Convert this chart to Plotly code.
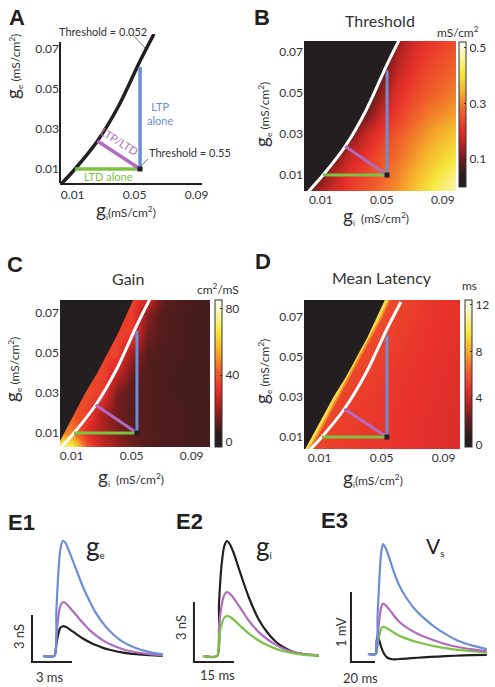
import plotly.graph_objects as go

W, H = 495, 687
INK = '#231f20'
TXT = '#333333'
BLUE = '#6b8ed6'
PURPLE = '#b06cbe'
GREEN = '#7cc243'
FONT = 'Lato, Liberation Sans, sans-serif'
BOLD = 'Liberation Sans, Arial, sans-serif'

# ---------------- data ----------------
GI = [0.0, 0.01, 0.02, 0.03, 0.04, 0.05, 0.06, 0.07, 0.08, 0.09, 0.10]
GE = [0.0, 0.01, 0.02, 0.03, 0.04, 0.05, 0.06, 0.07, 0.08]

THRESH_Z = [
    [0.10, 0.16, 0.20, 0.23, 0.26, 0.29, 0.32, 0.36, 0.41, 0.45, 0.48],
    [0.06, 0.10, 0.17, 0.21, 0.24, 0.27, 0.30, 0.34, 0.38, 0.42, 0.45],
    [0.04, 0.06, 0.10, 0.18, 0.21, 0.25, 0.28, 0.31, 0.35, 0.38, 0.41],
    [0.02, 0.04, 0.06, 0.10, 0.18, 0.22, 0.26, 0.29, 0.32, 0.35, 0.37],
    [0.00, 0.02, 0.04, 0.06, 0.10, 0.18, 0.22, 0.26, 0.29, 0.31, 0.33],
    [0.00, 0.00, 0.02, 0.04, 0.06, 0.13, 0.20, 0.23, 0.26, 0.28, 0.30],
    [0.00, 0.00, 0.00, 0.02, 0.04, 0.09, 0.17, 0.21, 0.24, 0.26, 0.28],
    [0.00, 0.00, 0.00, 0.00, 0.02, 0.06, 0.14, 0.19, 0.22, 0.24, 0.26],
    [0.00, 0.00, 0.00, 0.00, 0.00, 0.04, 0.11, 0.17, 0.20, 0.22, 0.24],
]
GAIN_Z = [
    [85, 80, 45, 28, 20, 14, 11, 10, 9, 8, 8],
    [48, 48, 30, 22, 16, 12, 10, 9, 9, 8, 8],
    [40, 40, 36, 22, 14, 11, 10, 9, 9, 8, 8],
    [38, 38, 38, 34, 15, 11, 10, 9, 8, 8, 8],
    [37, 37, 37, 37, 26, 13, 10, 9, 8, 8, 8],
    [36, 36, 36, 36, 36, 20, 11, 9, 9, 8, 8],
    [36, 36, 36, 36, 36, 34, 14, 10, 9, 8, 8],
    [35, 35, 35, 35, 35, 35, 18, 10, 9, 8, 8],
    [35, 35, 35, 35, 35, 35, 34, 13, 10, 9, 8],
]
LAT_Z = [
    [5.6, 5.4, 5.2, 5.1, 5.05, 5.0, 4.9, 4.8, 4.7, 4.6, 4.5],
    [5.6, 5.5, 5.3, 5.15, 5.05, 5.0, 4.9, 4.8, 4.7, 4.6, 4.5],
    [5.6, 5.6, 5.4, 5.2, 5.1, 5.0, 4.9, 4.8, 4.7, 4.6, 4.5],
    [5.6, 5.6, 5.5, 5.3, 5.15, 5.05, 4.95, 4.85, 4.75, 4.65, 4.55],
    [5.6, 5.6, 5.6, 5.5, 5.3, 5.15, 5.0, 4.9, 4.8, 4.7, 4.6],
    [5.6, 5.6, 5.6, 5.6, 5.5, 5.3, 5.1, 4.95, 4.85, 4.75, 4.65],
    [5.6, 5.6, 5.6, 5.6, 5.6, 5.5, 5.25, 5.05, 4.9, 4.8, 4.7],
    [5.6, 5.6, 5.6, 5.6, 5.6, 5.6, 5.4, 5.15, 4.95, 4.85, 4.75],
    [5.6, 5.6, 5.6, 5.6, 5.6, 5.6, 5.5, 5.3, 5.0, 4.9, 4.8],
]

# spike / no-spike boundary (left of it: no response)
SPIKE_GE = [0.0, 0.01, 0.02, 0.03, 0.04, 0.05, 0.06, 0.07, 0.08]
SPIKE_GI = [-0.002, 0.005, 0.012, 0.019, 0.027, 0.034, 0.041, 0.047, 0.053]

# threshold curve
CURVE_GI = [0.002, 0.0115, 0.026, 0.040, 0.0535, 0.0625]
CURVE_GE = [0.002, 0.010, 0.024, 0.042, 0.064, 0.0775]

# plasticity paths
LTP_GI, LTP_GE = [0.0535, 0.0535], [0.010, 0.061]
MIX_GI, MIX_GE = [0.026, 0.0535], [0.024, 0.010]
LTD_GI, LTD_GE = [0.0115, 0.0535], [0.010, 0.010]
BASE_GI, BASE_GE = [0.0535], [0.010]

GI_TICKS = [0.01, 0.05, 0.09]
GI_TEXT = ['0.01', '0.05', '0.09']
GE_TICKS = [0.01, 0.03, 0.05, 0.07]
GE_TEXT = ['0.01', '0.03', '0.05', '0.07']

# E1: excitatory conductance (ms, nS)
E1_T = [0, 0.85, 1.0, 1.15, 1.3, 1.5, 1.7, 2.0, 2.5, 3.0, 3.5, 4.0, 4.5, 5.0, 6.0, 7.0, 8.0, 9.0]
E1_BLUE = [0, 0, 2.8, 5.3, 6.8, 7.35, 7.2, 6.6, 5.5, 4.4, 3.5, 2.7, 2.1, 1.6, 0.9, 0.5, 0.25, 0.1]
E1_PURPLE = [0, 0, 1.3, 2.5, 3.2, 3.43, 3.37, 3.1, 2.6, 2.1, 1.65, 1.3, 1.0, 0.76, 0.43, 0.24, 0.12, 0.05]
E1_BLACK = [0, 0, 0.75, 1.4, 1.8, 1.9, 1.86, 1.7, 1.4, 1.12, 0.88, 0.68, 0.52, 0.4, 0.22, 0.12, 0.06, 0.02]

# E2: inhibitory conductance (ms, nS)
E2_T = [0, 5.3, 6.0, 7.0, 8.0, 9.0, 10.0, 11.5, 13.0, 15.0, 17.0, 19.0, 21.0, 24.0, 27.0, 30.0, 34.0, 38.0, 43.5]
E2_BLACK = [0, 0, 2.6, 4.6, 5.5, 5.75, 5.6, 5.15, 4.55, 3.75, 3.0, 2.35, 1.8, 1.2, 0.75, 0.45, 0.2, 0.08, 0.02]
E2_PURPLE = [0, 0, 1.45, 2.55, 3.05, 3.2, 3.12, 2.9, 2.6, 2.2, 1.8, 1.47, 1.18, 0.85, 0.58, 0.38, 0.2, 0.09, 0.03]
E2_GREEN = [0, 0, 0.9, 1.6, 1.92, 2.0, 1.96, 1.82, 1.63, 1.38, 1.14, 0.94, 0.76, 0.55, 0.38, 0.25, 0.13, 0.06, 0.02]

# E3: somatic voltage (ms, mV)
E3_T = [0, 6.4, 8.0, 9.5, 11.0, 12.5, 14.5, 18.0, 22.0, 26.0, 32.0, 40.0, 48.0, 56.0, 65.0, 75.0, 87.0, 99.0]
E3_BLUE = [0, 0, 0.55, 1.08, 1.45, 1.57, 1.52, 1.36, 1.15, 0.98, 0.8, 0.62, 0.49, 0.38, 0.28, 0.19, 0.12, 0.07]
E3_PURPLE = [0, 0, 0.25, 0.5, 0.67, 0.72, 0.70, 0.63, 0.54, 0.46, 0.38, 0.3, 0.24, 0.19, 0.14, 0.1, 0.065, 0.04]
E3_GREEN = [0, 0, 0.14, 0.27, 0.36, 0.39, 0.38, 0.345, 0.3, 0.26, 0.22, 0.175, 0.14, 0.11, 0.085, 0.06, 0.04, 0.025]
E3_BLACK_T = [0, 6.4, 7.2, 8.0, 9.0, 11.0, 13.5, 16.0, 19.0, 22.0, 28.0, 36.0, 46.0, 58.0, 72.0, 86.0, 99.0]
E3_BLACK = [0, 0, 0.18, 0.26, 0.22, 0.1, 0.0, -0.05, -0.072, -0.076, -0.07, -0.06, -0.048, -0.036, -0.025, -0.017, -0.012]

# scale bars (length in axis units)
E1_BAR = (3, 3)     # ms, nS
E2_BAR = (15, 3)    # ms, nS
E3_BAR = (20, 1)    # ms, mV

HOT = [[0.0, '#231f20'], [0.08, '#2e1b1b'], [0.16, '#5a1c1c'], [0.28, '#ad2220'],
       [0.40, '#e8312b'], [0.52, '#f0622a'], [0.65, '#f5ad2b'], [0.78, '#f7e63c'],
       [0.90, '#fbf5a8'], [1.0, '#fffef6']]


def dx(a, b):
    return [a / W, b / W]


def dy(a, b):
    return [1 - b / H, 1 - a / H]


fig = go.Figure()


def line(x, y, ax, color, width, shape='linear', smooth=None):
    ln = dict(color=color, width=width, shape=shape)
    if smooth is not None:
        ln['smoothing'] = smooth
    fig.add_trace(go.Scatter(x=x, y=y, mode='lines', line=ln, xaxis='x' + ax, yaxis='y' + ax,
                             hoverinfo='skip', showlegend=False))


def paths(ax, width):
    line(LTD_GI, LTD_GE, ax, GREEN, width)
    line(MIX_GI, MIX_GE, ax, PURPLE, width)
    line(LTP_GI, LTP_GE, ax, BLUE, width)
    fig.add_trace(go.Scatter(x=BASE_GI, y=BASE_GE, mode='markers',
                             marker=dict(symbol='square', size=5, color=INK),
                             xaxis='x' + ax, yaxis='y' + ax, hoverinfo='skip', showlegend=False))


def cbar(x0, y0, length, tv):
    return dict(x=x0 / W, xanchor='left', y=1 - y0 / H, yanchor='top', len=length, lenmode='pixels',
                thickness=7, thicknessmode='pixels', outlinewidth=1, outlinecolor='#333',
                tickvals=tv, ticks='inside', ticklen=2, tickcolor='#333',
                tickfont=dict(family=FONT, size=12, color=TXT), xpad=0, ypad=0)


def mask(ax, bx, by, shape='linear'):
    fig.add_trace(go.Scatter(x=bx + [-0.03, -0.03], y=by + [0.09, -0.01], mode='lines',
                             fill='toself', fillcolor=INK, line=dict(width=0, color=INK, shape=shape),
                             xaxis='x' + ax, yaxis='y' + ax, hoverinfo='skip', showlegend=False))


# ---- A ----
line(CURVE_GI, CURVE_GE, '', INK, 3.5, 'spline', 0.8)
paths('', 3.5)

# ---- B ----
fig.add_trace(go.Heatmap(x=GI, y=GE, z=THRESH_Z, zsmooth='best', colorscale=HOT, zmin=0, zmax=0.52,
                         xaxis='x2', yaxis='y2', hoverinfo='skip',
                         colorbar=cbar(459, 42, 145, [0.1, 0.3, 0.5])))
mask('2', CURVE_GI, CURVE_GE)
line(CURVE_GI, CURVE_GE, '2', 'white', 3, 'spline', 0.8)
paths('2', 3)

# ---- C ----
fig.add_trace(go.Heatmap(x=GI, y=GE, z=GAIN_Z, zsmooth='best', colorscale=HOT, zmin=-3, zmax=85,
                         xaxis='x3', yaxis='y3', hoverinfo='skip',
                         colorbar=cbar(215, 300, 147, [0, 40, 80])))
mask('3', SPIKE_GI, SPIKE_GE)
line(CURVE_GI, CURVE_GE, '3', 'white', 3, 'spline', 0.8)
paths('3', 3)

# ---- D ----
fig.add_trace(go.Heatmap(x=GI, y=GE, z=LAT_Z, zsmooth='best', colorscale=HOT, zmin=-0.2, zmax=12.4,
                         xaxis='x4', yaxis='y4', hoverinfo='skip',
                         colorbar=cbar(465, 300, 147, [0, 4, 8, 12])))
line(SPIKE_GI, SPIKE_GE, '4', '#f08a28', 10)
line(SPIKE_GI, SPIKE_GE, '4', '#f9d84a', 6)
mask('4', SPIKE_GI, SPIKE_GE)
line(CURVE_GI, CURVE_GE, '4', 'white', 3, 'spline', 0.8)
paths('4', 3)

# ---- E traces ----
TW = 2.2
line(E1_T, E1_BLACK, '5', INK, TW, 'spline', 0.7)
line(E1_T, E1_PURPLE, '5', PURPLE, TW, 'spline', 0.7)
line(E1_T, E1_BLUE, '5', BLUE, TW, 'spline', 0.7)
line(E2_T, E2_BLACK, '6', INK, TW, 'spline', 0.7)
line(E2_T, E2_PURPLE, '6', PURPLE, TW, 'spline', 0.7)
line(E2_T, E2_GREEN, '6', GREEN, TW, 'spline', 0.7)
line(E3_BLACK_T, E3_BLACK, '7', INK, TW, 'spline', 0.7)
line(E3_T, E3_GREEN, '7', GREEN, TW, 'spline', 0.7)
line(E3_T, E3_PURPLE, '7', PURPLE, TW, 'spline', 0.7)
line(E3_T, E3_BLUE, '7', BLUE, TW, 'spline', 0.7)

# scale bars
for ax, (t0, a0), (bt, ba) in [('5', (-0.825, -0.38), E1_BAR), ('6', (-3.4, -0.3), E2_BAR),
                                ('7', (-14.2, -0.114), E3_BAR)]:
    line([t0, t0, t0 + bt], [a0 + ba, a0, a0], ax, INK, 2)

# ---------------- layout ----------------
tf = dict(family=FONT, size=12, color=TXT)


def hx(dom, rng):
    return dict(domain=dom, range=rng, tickvals=GI_TICKS, ticktext=GI_TEXT, ticks='', showgrid=False,
                zeroline=False, showline=False, tickfont=tf)


def hy(dom, rng):
    return dict(domain=dom, range=rng, tickvals=GE_TICKS, ticktext=GE_TEXT, ticks='', showgrid=False,
                zeroline=False, showline=False, tickfont=tf)


def hidden(dom, rng):
    return dict(domain=dom, range=rng, visible=False, showgrid=False, zeroline=False)


xa = hx(dx(60, 202), [0.0018, 0.0935])
xa.update(showline=True, linewidth=2, linecolor=INK)
ya = hy(dy(34, 183), [0.003, 0.0775])

annots = []


def txt(x, y, s, size=12, color=TXT, angle=0, xanchor='center', family=FONT):
    annots.append(dict(xref='paper', yref='paper', x=x / W, y=1 - y / H, text=s, showarrow=False,
                       font=dict(family=family, size=size, color=color), textangle=angle,
                       xanchor=xanchor, yanchor='middle'))


for lab, x, y in [('A', 7, 18), ('B', 252, 18), ('C', 5, 264), ('D', 253, 262),
                  ('E1', 6, 522), ('E2', 174, 521), ('E3', 319, 520)]:
    txt(x, y, '<b>%s</b>' % lab, 22, INK, xanchor='left', family=BOLD)

G = "<span style='font-size:19px'>g</span>"
txt(13, 67, G + '<sub>e</sub> (mS/cm<sup>2</sup>)', 12, TXT, -90)
txt(262, 115, G + '<sub>e</sub> (mS/cm<sup>2</sup>)', 12, TXT, -90)
txt(12, 370, G + '<sub>e</sub> (mS/cm<sup>2</sup>)', 12, TXT, -90)
txt(262, 372, G + '<sub>e</sub> (mS/cm<sup>2</sup>)', 12, TXT, -90)
txt(126, 210, G + '<sub>i</sub>(mS/cm<sup>2</sup>)', 12)
txt(376, 216, G + '<sub>i</sub>  (mS/cm<sup>2</sup>)', 12)
txt(131, 477, G + '<sub>i</sub>  (mS/cm<sup>2</sup>)', 12)
txt(373, 478, G + '<sub>i</sub>(mS/cm<sup>2</sup>)', 12)

txt(380, 21, 'Threshold', 16)
txt(128, 278, 'Gain', 16)
txt(382, 277, 'Mean Latency', 16)
txt(458, 32, 'mS/cm<sup>2</sup>', 12)
txt(218, 289, 'cm<sup>2</sup>/mS', 12)
txt(469, 285, 'ms', 12)

txt(103, 31, 'Threshold = 0.052', 11)
txt(190, 153, 'Threshold = 0.55', 11)
txt(145, 114, 'LTP<br>alone', 11, BLUE, xanchor='left')
txt(108, 176, 'LTD alone', 11, GREEN)
txt(120, 141, 'LTP/LTD', 11, PURPLE, 32)

txt(95, 546, "<span style='font-size:26px'>g</span><sub>e</sub>", 14, INK)
txt(264, 546, "<span style='font-size:26px'>g</span><sub>i</sub>", 14, INK)
txt(435, 546, "<span style='font-size:21px'>V</span><sub>s</sub>", 14, INK)

txt(19, 637, '3 nS', 13, TXT, -90)
txt(50, 677, '3 ms', 13)
txt(181, 628, '3 nS', 13, TXT, -90)
txt(217, 675, '15 ms', 13)
txt(341, 632, '1 mV', 13, TXT, -90)
txt(360, 678, '20 ms', 13)

shapes = [
    dict(type='line', xref='paper', yref='paper', x0=133 / W, y0=1 - 35 / H, x1=145 / W, y1=1 - 48 / H,
         line=dict(color='#555', width=0.8)),
    dict(type='line', xref='paper', yref='paper', x0=148 / W, y0=1 - 159 / H, x1=141 / W, y1=1 - 166 / H,
         line=dict(color='#555', width=0.8)),
    dict(type='line', xref='x domain', yref='y', x0=0, x1=0, y0=0.003, y1=0.0735,
         line=dict(color=INK, width=2)),
]

fig.update_layout(
    width=W, height=H, margin=dict(l=0, r=0, t=0, b=0, autoexpand=False),
    paper_bgcolor='white', plot_bgcolor='white', showlegend=False,
    font=dict(family=FONT, size=12, color=TXT),
    xaxis=dict(anchor='y', **xa), yaxis=dict(anchor='x', **ya),
    xaxis2=dict(anchor='y2', **hx(dx(304, 456), [-0.001, 0.0987])),
    yaxis2=dict(anchor='x2', **hy(dy(41, 191), [0.0022, 0.0754])),
    xaxis3=dict(anchor='y3', **hx(dx(60, 210), [0.0022, 0.1022])),
    yaxis3=dict(anchor='x3', **hy(dy(300, 447), [0.003, 0.0765])),
    xaxis4=dict(anchor='y4', **hx(dx(304, 460), [0.0, 0.1006])),
    yaxis4=dict(anchor='x4', **hy(dy(300, 449), [0.004, 0.0785])),
    xaxis5=dict(anchor='y5', **hidden(dx(20, 165), [-1.725, 9.15])),
    yaxis5=dict(anchor='x5', **hidden(dy(530, 665), [-0.574, 8.04])),
    xaxis6=dict(anchor='y6', **hidden(dx(170, 325), [-12.375, 45.75])),
    yaxis6=dict(anchor='x6', **hidden(dy(530, 665), [-0.45, 6.3])),
    xaxis7=dict(anchor='y7', **hidden(dx(330, 495), [-31.67, 105.83])),
    yaxis7=dict(anchor='x7', **hidden(dy(530, 665), [-0.157, 1.771])),
    annotations=annots, shapes=shapes, hovermode=False,
)

fig.write_html('out.html', config={'displayModeBar': False},
               post_script="document.body.style.margin='0px';document.body.style.overflow='hidden';")
